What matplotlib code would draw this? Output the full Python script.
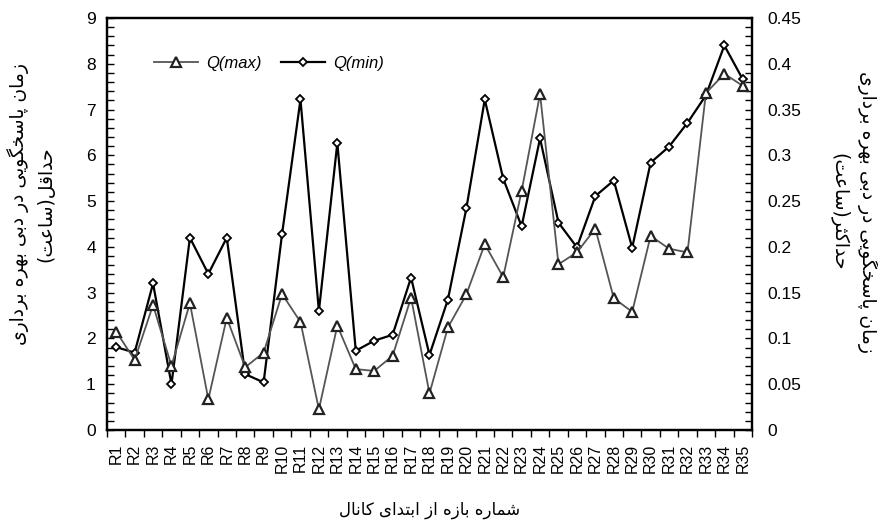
import matplotlib
matplotlib.use('Agg')
import matplotlib.pyplot as plt
from matplotlib.ticker import MultipleLocator, FixedLocator, FuncFormatter

# reach names R1..R35
reaches = ['R%d' % i for i in range(1, 36)]

# response time at minimum discharge (hours, left axis)
q_min = [1.81, 1.69, 3.20, 1.00, 4.20, 3.41, 4.20, 1.22, 1.04, 4.28,
         7.22, 2.60, 6.27, 1.73, 1.95, 2.08, 3.33, 1.64, 2.85, 4.84,
         7.22, 5.49, 4.45, 6.37, 4.53, 3.99, 5.11, 5.45, 3.98, 5.84,
         6.19, 6.71, 7.31, 8.40, 7.66]

# response time at maximum discharge (hours, right axis)
q_max = [0.1075, 0.0765, 0.1365, 0.070, 0.1385, 0.0335, 0.1225, 0.0685, 0.0845, 0.1485,
         0.118, 0.0225, 0.114, 0.0665, 0.0645, 0.081, 0.1445, 0.040, 0.112, 0.148,
         0.203, 0.167, 0.261, 0.367, 0.181, 0.194, 0.220, 0.144, 0.129, 0.212,
         0.198, 0.194, 0.368, 0.389, 0.376]

left_label = 'زمان پاسخگویی در دبی بهره برداری\nحداقل(ساعت)'
right_label = 'زمان پاسخگویی در دبی بهره برداری\nحداکثر(ساعت)'
x_label = 'شماره بازه از ابتدای کانال'

# presentation forms: isolated, final, initial, medial
FORMS = {
    'ا': ('\uFE8D', '\uFE8E', None, None),
    'ب': ('\uFE8F', '\uFE90', '\uFE91', '\uFE92'),
    'ت': ('\uFE95', '\uFE96', '\uFE97', '\uFE98'),
    'ث': ('\uFE99', '\uFE9A', '\uFE9B', '\uFE9C'),
    'ح': ('\uFEA1', '\uFEA2', '\uFEA3', '\uFEA4'),
    'خ': ('\uFEA5', '\uFEA6', '\uFEA7', '\uFEA8'),
    'د': ('\uFEA9', '\uFEAA', None, None),
    'ر': ('\uFEAD', '\uFEAE', None, None),
    'ز': ('\uFEAF', '\uFEB0', None, None),
    'س': ('\uFEB1', '\uFEB2', '\uFEB3', '\uFEB4'),
    'ش': ('\uFEB5', '\uFEB6', '\uFEB7', '\uFEB8'),
    'ع': ('\uFEC9', '\uFECA', '\uFECB', '\uFECC'),
    'ق': ('\uFED5', '\uFED6', '\uFED7', '\uFED8'),
    'ل': ('\uFEDD', '\uFEDE', '\uFEDF', '\uFEE0'),
    'م': ('\uFEE1', '\uFEE2', '\uFEE3', '\uFEE4'),
    'ن': ('\uFEE5', '\uFEE6', '\uFEE7', '\uFEE8'),
    'ه': ('\uFEE9', '\uFEEA', '\uFEEB', '\uFEEC'),
    'و': ('\uFEED', '\uFEEE', None, None),
    'پ': ('\uFB56', '\uFB57', '\uFB58', '\uFB59'),
    'گ': ('\uFB92', '\uFB93', '\uFB94', '\uFB95'),
    'ک': ('\uFB8E', '\uFB8F', '\uFB90', '\uFB91'),
    'ی': ('\uFBFC', '\uFBFD', '\uFBFE', '\uFBFF'),
}


def shape_line(text):
    out = []
    for i, ch in enumerate(text):
        if ch not in FORMS:
            out.append(ch)
            continue
        f = FORMS[ch]
        prev = text[i - 1] if i > 0 else ''
        nxt = text[i + 1] if i + 1 < len(text) else ''
        jp = prev in FORMS and FORMS[prev][2] is not None
        jn = f[2] is not None and nxt in FORMS
        if jp and jn:
            out.append(f[3])
        elif jp:
            out.append(f[1])
        elif jn:
            out.append(f[2])
        else:
            out.append(f[0])
    s = ''.join(reversed(out))
    return s.translate(str.maketrans('()', ')('))


def shape(text):
    return '\n'.join(shape_line(l) for l in text.split('\n'))


plt.rcParams['font.family'] = ['Liberation Sans', 'DejaVu Sans']
fa_font = 'DejaVu Sans'

fig = plt.figure(figsize=(8.79, 5.25), dpi=100)
ax = fig.add_axes([0.1217, 0.181, 0.7338, 0.7847])
ax2 = ax.twinx()

x = list(range(1, len(reaches) + 1))
l_min, = ax.plot(x, q_min, color='black', lw=1.6, marker='D', ms=4.5,
                 mfc='white', mec='black', mew=1.3, label='Q(min)')
l_max, = ax2.plot(x, q_max, color='#555555', lw=1.3, marker='^', ms=7,
                  mfc='white', mec='#222222', mew=1.6, label='Q(max)')

ax.set_xlim(0.5, len(reaches) + 0.5)
ax.set_ylim(0, 9)
ax2.set_ylim(0, 0.45)

ax.set_xticks(x)
ax.set_xticklabels(reaches, rotation=90, fontsize=11.5)
ax.xaxis.set_minor_locator(FixedLocator([i + 0.5 for i in range(0, len(reaches) + 1)]))
ax.tick_params(axis='x', which='major', length=0, pad=10)
ax.tick_params(axis='x', which='minor', length=5, width=1, direction='out')

ax.yaxis.set_major_locator(MultipleLocator(1))
ax.yaxis.set_minor_locator(MultipleLocator(0.2))
ax.tick_params(axis='y', which='both', direction='in', length=5, width=1,
               labelsize=12.5, pad=8)

ax2.yaxis.set_major_locator(MultipleLocator(0.05))
ax2.yaxis.set_minor_locator(MultipleLocator(0.01))
ax2.yaxis.set_major_formatter(FuncFormatter(lambda v, p: '%g' % round(v, 2)))
ax2.tick_params(axis='y', which='both', direction='in', length=5, width=1,
                labelsize=12.5, pad=11)

for a in (ax, ax2):
    for sp in a.spines.values():
        sp.set_linewidth(1.6)

ax2.legend(handles=[l_max, l_min], loc='center left', bbox_to_anchor=(0.05, 0.89),
           ncol=2, frameon=False, handlelength=2.6, columnspacing=1.2,
           handletextpad=0.5, prop={'family': 'Liberation Sans', 'style': 'italic', 'size': 12})

fig.text(0.035, 0.612, shape(left_label), rotation=90, ha='center', va='center',
         multialignment='center', fontsize=13.5, family=fa_font, linespacing=1.5)
fig.text(0.9716, 0.597, shape(right_label), rotation=270, ha='center', va='center',
         multialignment='center', fontsize=13.5, family=fa_font, linespacing=1.5)
fig.text(0.489, 0.029, shape(x_label), ha='center', va='center',
         fontsize=12, family=fa_font)

fig.savefig('out.png', dpi=100)
